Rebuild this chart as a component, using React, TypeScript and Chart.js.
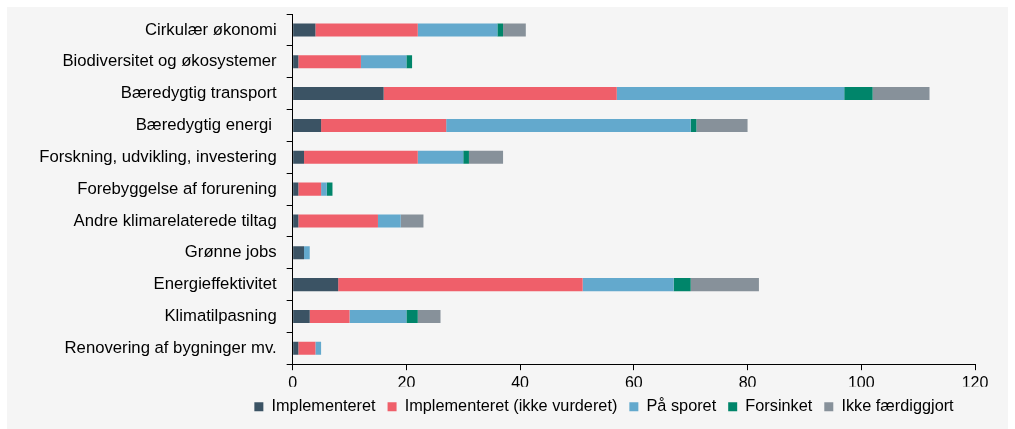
import React, { useEffect, useRef } from "react";
import { Chart, registerables } from "chart.js";

Chart.register(...registerables);

const categories = [
  "Cirkulær økonomi",
  "Biodiversitet og økosystemer",
  "Bæredygtig transport",
  "Bæredygtig energi ",
  "Forskning, udvikling, investering",
  "Forebyggelse af forurening",
  "Andre klimarelaterede tiltag",
  "Grønne jobs",
  "Energieffektivitet",
  "Klimatilpasning",
  "Renovering af bygninger mv.",
];

const seriesNames = [
  "Implementeret",
  "Implementeret (ikke vurderet)",
  "På sporet",
  "Forsinket",
  "Ikke færdiggjort",
];

const implementeret = [4, 1, 16, 5, 2, 1, 1, 2, 8, 3, 1];
const ikkeVurderet = [18, 11, 41, 22, 20, 4, 14, 0, 43, 7, 3];
const paaSporet = [14, 8, 40, 43, 8, 1, 4, 1, 16, 10, 1];
const forsinket = [1, 1, 5, 1, 1, 1, 0, 0, 3, 2, 0];
const ikkeFaerdiggjort = [4, 0, 10, 9, 6, 0, 4, 0, 12, 4, 0];

const xMin = 0;
const xMax = 120;
const xStep = 20;

const seriesColors = ["#3b5364", "#ef5f6a", "#63a9cd", "#00856a", "#87919a"];

const FONT = "'Liberation Sans', Arial, sans-serif";

const legendShift = {
  id: "legendShift",
  afterLayout(chart: any) {
    const l = chart.legend;
    if (!l) return;
    const d = 597 - (l.left + l.right) / 2;
    l.left += d;
    l.right += d;
  },
};

export default function App() {
  const ref = useRef<HTMLCanvasElement | null>(null);

  useEffect(() => {
    if (!ref.current) return;
    const values = [implementeret, ikkeVurderet, paaSporet, forsinket, ikkeFaerdiggjort];
    const chart = new Chart(ref.current, {
      type: "bar",
      data: {
        labels: categories,
        datasets: seriesNames.map((name, i) => ({
          label: name,
          data: values[i],
          backgroundColor: seriesColors[i],
          borderWidth: 0,
          categoryPercentage: 1,
          barPercentage: 0.41,
        })),
      },
      options: {
        indexAxis: "y",
        animation: false,
        responsive: false,
        maintainAspectRatio: false,
        layout: { padding: { top: 7, right: 33, bottom: 4, left: 0 } },
        scales: {
          x: {
            stacked: true,
            min: xMin,
            max: xMax,
            ticks: { stepSize: xStep, color: "#000", font: { family: FONT, size: 16 }, padding: 4 },
            grid: { drawOnChartArea: false, drawTicks: true, tickLength: 6, tickColor: "#000" },
            border: { display: true, color: "#000", width: 1 },
            afterFit: (s: any) => {
              s.height = 22.5;
            },
          },
          y: {
            stacked: true,
            ticks: { color: "#000", font: { family: FONT, size: 16.7 }, padding: 10, autoSkip: false },
            grid: { drawOnChartArea: false, drawTicks: true, tickLength: 6, tickColor: "#000", offset: true },
            border: { display: true, color: "#000", width: 1 },
            afterFit: (s: any) => {
              s.width = 285.67;
              s.paddingTop = 0;
              s.paddingBottom = 0;
            },
          },
        },
        plugins: {
          legend: {
            position: "bottom",
            labels: {
              boxWidth: 9,
              boxHeight: 9,
              padding: 12,
              color: "#000",
              font: { family: FONT, size: 16.3 },
            },
          },
          tooltip: { enabled: false },
        },
      },
      plugins: [legendShift],
    } as any);
    return () => chart.destroy();
  }, []);

  return (
    <div
      style={{
        position: "fixed",
        left: 7,
        top: 7,
        width: 1001,
        height: 422,
        background: "#f5f5f5",
      }}
    >
      <canvas ref={ref} width={1001} height={422} style={{ display: "block" }} />
    </div>
  );
}
